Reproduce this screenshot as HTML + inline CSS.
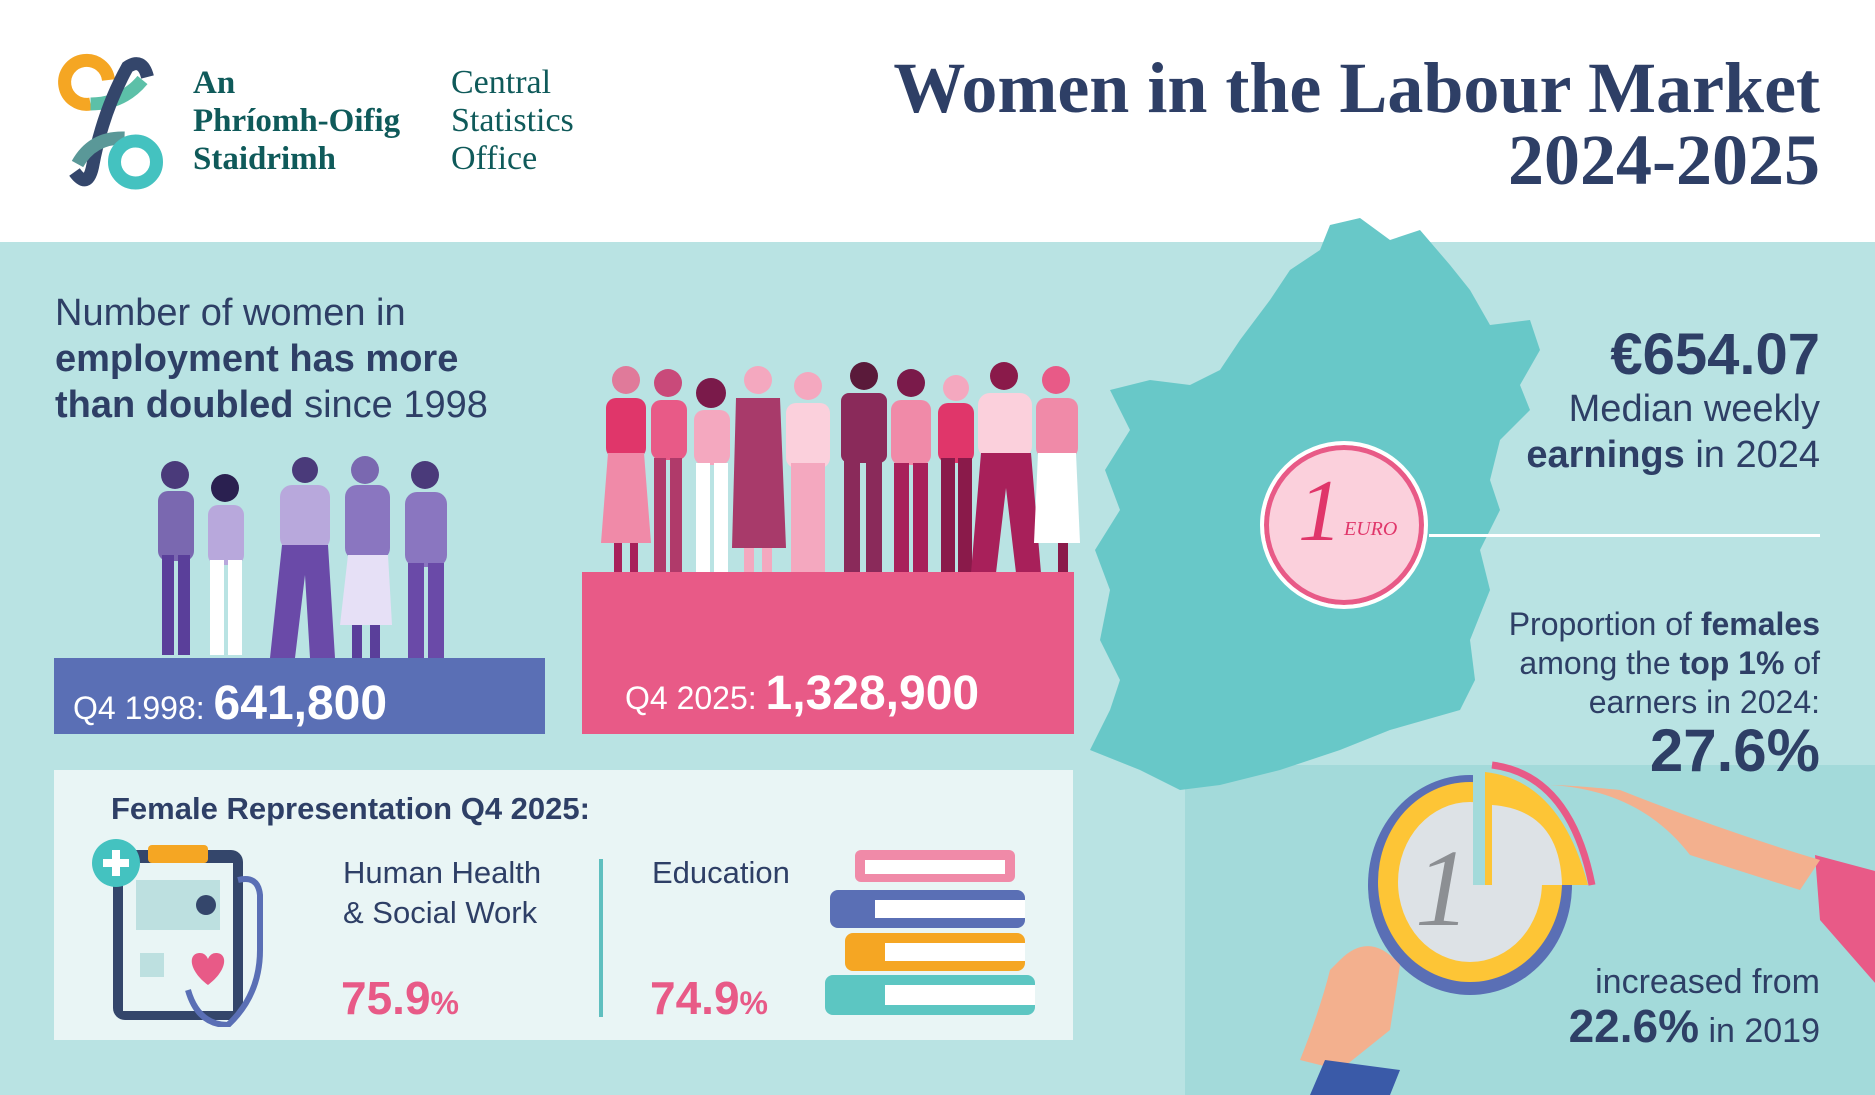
<!DOCTYPE html>
<html><head><meta charset="utf-8"><style>
*{margin:0;padding:0;box-sizing:border-box}
body{width:1875px;height:1095px;overflow:hidden;position:relative;background:#b9e3e3;font-family:"Liberation Sans",sans-serif;color:#2e3f66}
.a{position:absolute;white-space:nowrap}
.r{text-align:right;right:55px}
b{font-weight:bold}
</style></head><body>
<div class="a" style="left:0;top:0;width:1875px;height:242px;background:#fff"></div>
<div class="a" style="left:1185px;top:765px;width:690px;height:330px;background:#a3dada"></div>

<!-- logo -->
<svg class="a" style="left:50px;top:52px" width="125" height="145" viewBox="0 0 100 145">
<path d="M28 52 A22 22 0 1 1 46 28" fill="none" stroke="#f5a623" stroke-width="13"/>
<path d="M28 52 Q60 52 80 28" fill="none" stroke="#5cc0a8" stroke-width="13"/>
<path d="M85 25 Q80 5 65 15 Q40 60 30 115 Q25 138 12 120" fill="none" stroke="#34466b" stroke-width="13"/>
<path d="M15 112 Q30 85 62 86" fill="none" stroke="#5a9898" stroke-width="13"/>
<circle cx="73" cy="110" r="21" fill="none" stroke="#44c2c0" stroke-width="13"/>
</svg>
<div class="a" style="left:193px;top:64px;font:bold 33px/38px 'Liberation Serif',serif;color:#0f5a5a">An<br>Phríomh-Oifig<br>Staidrimh</div>
<div class="a" style="left:451px;top:64px;font:34px/38px 'Liberation Serif',serif;color:#0f5a5a">Central<br>Statistics<br>Office</div>

<div class="a r" style="top:52px;font:bold 72px/72px 'Liberation Serif',serif;text-align:right">Women in the Labour Market<br>2024-2025</div>

<!-- map -->
<svg class="a" style="left:1090px;top:210px" width="460" height="590" viewBox="0 0 460 590">
<path d="M270 8 L300 30 L330 20 L360 55 L380 80 L400 115 L440 110 L450 140 L430 175 L440 200 L410 230 L400 270 L410 300 L390 340 L400 380 L380 430 L385 470 L370 500 L300 520 L250 540 L190 560 L130 575 L90 580 L50 560 L0 540 L20 500 L30 470 L10 430 L20 380 L5 340 L30 300 L15 260 L40 220 L20 180 L60 170 L100 175 L130 160 L150 130 L180 90 L200 60 L230 40 L240 15 Z" fill="#68c8c8"/>
</svg>

<!-- left text -->
<div class="a" style="left:55px;top:290px;font:38px/46px 'Liberation Sans',sans-serif">Number of women in<br><b>employment has more</b><br><b>than doubled</b> since 1998</div>

<!-- blue women -->
<svg class="a" style="left:130px;top:455px" width="330" height="205" viewBox="0 0 330 205">
<g fill="#7a68b0"><circle cx="45" cy="20" r="14" fill="#4a3a7a"/><rect x="28" y="36" width="36" height="70" rx="10"/><rect x="32" y="100" width="12" height="100" fill="#5a3f9a"/><rect x="48" y="100" width="12" height="100" fill="#5a3f9a"/></g>
<g><circle cx="95" cy="33" r="14" fill="#2a2050"/><rect x="78" y="50" width="36" height="60" rx="10" fill="#b8a8dc"/><rect x="80" y="105" width="14" height="95" fill="#fff"/><rect x="98" y="105" width="14" height="95" fill="#fff"/></g>
<g><circle cx="175" cy="15" r="13" fill="#4a3a7a"/><rect x="150" y="30" width="50" height="65" rx="12" fill="#b8a8dc"/><path d="M152 90 L198 90 L205 203 L180 203 L175 120 L165 203 L140 203 Z" fill="#6a4aa8"/></g>
<g><circle cx="235" cy="15" r="14" fill="#7a68b0"/><rect x="215" y="30" width="45" height="75" rx="12" fill="#8a76c0"/><path d="M218 100 L258 100 L262 170 L210 170 Z" fill="#e6e0f6"/><rect x="222" y="170" width="10" height="33" fill="#5a3f9a"/><rect x="240" y="170" width="10" height="33" fill="#5a3f9a"/></g>
<g><circle cx="295" cy="20" r="14" fill="#4a3a7a"/><rect x="275" y="37" width="42" height="75" rx="12" fill="#8a76c0"/><rect x="278" y="108" width="16" height="95" fill="#6a4aa8"/><rect x="298" y="108" width="16" height="95" fill="#6a4aa8"/></g>
</svg>
<div class="a" style="left:54px;top:658px;width:491px;height:76px;background:#5a6fb5"></div>
<div class="a" style="left:73px;top:680px;color:#fff;font:32px/48px 'Liberation Sans',sans-serif">Q4 1998: <b style="font-size:48px">641,800</b></div>

<!-- pink women -->
<svg class="a" style="left:586px;top:358px" width="505" height="215" viewBox="0 0 505 215">
<g>
<circle cx="40" cy="22" r="14" fill="#e07a9a"/><rect x="20" y="40" width="40" height="60" rx="10" fill="#e0366a"/><path d="M22 95 L58 95 L65 185 L15 185 Z" fill="#f08aa8"/><rect x="28" y="185" width="8" height="30" fill="#a8205a"/><rect x="44" y="185" width="8" height="30" fill="#a8205a"/>
<circle cx="82" cy="25" r="14" fill="#c94a7a"/><rect x="65" y="42" width="36" height="60" rx="10" fill="#e85a87"/><rect x="68" y="100" width="12" height="115" fill="#b03a6a"/><rect x="84" y="100" width="12" height="115" fill="#b03a6a"/>
<circle cx="125" cy="35" r="15" fill="#7a1a4a"/><rect x="108" y="52" width="36" height="55" rx="10" fill="#f4a8bf"/><rect x="110" y="105" width="14" height="110" fill="#fff"/><rect x="128" y="105" width="14" height="110" fill="#fff"/>
<circle cx="172" cy="22" r="14" fill="#f4a8bf"/><path d="M150 40 L194 40 L200 190 L146 190 Z" fill="#a83a6a"/><rect x="158" y="190" width="10" height="25" fill="#f4a8bf"/><rect x="176" y="190" width="10" height="25" fill="#f4a8bf"/>
<circle cx="222" cy="28" r="14" fill="#f4a8bf"/><rect x="200" y="45" width="44" height="65" rx="10" fill="#fbd0dc"/><rect x="205" y="105" width="34" height="110" fill="#f4a8bf"/>
<circle cx="278" cy="18" r="14" fill="#5a1a3a"/><rect x="255" y="35" width="46" height="70" rx="8" fill="#8a2a5a"/><rect x="258" y="100" width="16" height="115" fill="#8a2a5a"/><rect x="280" y="100" width="16" height="115" fill="#8a2a5a"/>
<circle cx="325" cy="25" r="14" fill="#7a1a4a"/><rect x="305" y="42" width="40" height="65" rx="10" fill="#f08aa8"/><rect x="308" y="105" width="15" height="110" fill="#a8205a"/><rect x="327" y="105" width="15" height="110" fill="#a8205a"/>
<circle cx="370" cy="30" r="13" fill="#f4a8bf"/><rect x="352" y="45" width="36" height="60" rx="10" fill="#e0366a"/><rect x="355" y="100" width="14" height="115" fill="#8a1a4a"/><rect x="372" y="100" width="14" height="115" fill="#8a1a4a"/>
<circle cx="418" cy="18" r="14" fill="#8a1a4a"/><rect x="392" y="35" width="54" height="65" rx="12" fill="#fbd0dc"/><path d="M395 95 L445 95 L455 215 L430 215 L420 130 L410 215 L385 215 Z" fill="#a8205a"/>
<circle cx="470" cy="22" r="14" fill="#e85a87"/><rect x="450" y="40" width="42" height="60" rx="10" fill="#f08aa8"/><path d="M452 95 L490 95 L494 185 L448 185 Z" fill="#fff"/><rect x="472" y="185" width="10" height="30" fill="#8a1a4a"/>
</g></svg>
<div class="a" style="left:582px;top:572px;width:492px;height:162px;background:#e85a87"></div>
<div class="a" style="left:625px;top:670px;color:#fff;font:32px/48px 'Liberation Sans',sans-serif">Q4 2025: <b style="font-size:48px">1,328,900</b></div>

<!-- representation box -->
<div class="a" style="left:54px;top:770px;width:1019px;height:270px;background:#e9f5f5"></div>
<div class="a" style="left:111px;top:790px;font:bold 31px/38px 'Liberation Sans',sans-serif">Female Representation Q4 2025:</div>
<svg class="a" style="left:88px;top:835px" width="200" height="192" viewBox="0 0 200 192">
<rect x="25" y="15" width="130" height="170" rx="12" fill="#34466b"/><rect x="35" y="28" width="110" height="148" fill="#e9f5f5"/>
<rect x="60" y="10" width="60" height="18" rx="4" fill="#f5a623"/>
<rect x="48" y="45" width="84" height="50" fill="#bde0e0"/><circle cx="118" cy="70" r="10" fill="#34466b"/>
<rect x="52" y="118" width="24" height="24" fill="#bde0e0"/><path d="M120 150 C100 135 100 118 112 118 C118 118 120 124 120 124 C120 124 122 118 128 118 C140 118 140 135 120 150Z" fill="#e85a87"/>
<circle cx="28" cy="28" r="24" fill="#44c2c0"/><rect x="24" y="15" width="8" height="26" fill="#fff"/><rect x="15" y="24" width="26" height="8" fill="#fff"/>
<path d="M150 45 Q170 40 172 60 L172 115 Q172 160 140 190 Q110 190 100 155" fill="none" stroke="#5a6fb5" stroke-width="6"/>
</svg>
<div class="a" style="left:343px;top:853px;font:31px/40px 'Liberation Sans',sans-serif">Human Health<br>&amp; Social Work</div>
<div class="a" style="left:341px;top:973px;font:bold 46px/50px 'Liberation Sans',sans-serif;color:#e85a87">75.9<span style="font-size:32px">%</span></div>
<div class="a" style="left:599px;top:859px;width:4px;height:158px;background:#5fbfbf"></div>
<div class="a" style="left:652px;top:853px;font:31px/40px 'Liberation Sans',sans-serif">Education</div>
<div class="a" style="left:650px;top:973px;font:bold 46px/50px 'Liberation Sans',sans-serif;color:#e85a87">74.9<span style="font-size:32px">%</span></div>
<svg class="a" style="left:825px;top:845px" width="215" height="175" viewBox="0 0 215 175">
<rect x="30" y="5" width="160" height="32" rx="6" fill="#f08aa8"/><rect x="40" y="15" width="140" height="14" fill="#fff"/>
<rect x="5" y="45" width="195" height="38" rx="8" fill="#5a6fb5"/><rect x="50" y="55" width="150" height="18" fill="#fff"/>
<rect x="20" y="88" width="180" height="38" rx="8" fill="#f5a623"/><rect x="60" y="98" width="140" height="18" fill="#fff"/>
<rect x="0" y="130" width="210" height="40" rx="8" fill="#5cc6c2"/><rect x="60" y="140" width="150" height="20" fill="#fff"/>
</svg>

<!-- coin 1 -->
<div class="a" style="left:1260px;top:441px;width:168px;height:168px;border-radius:50%;background:#fbd0dc;border:4px solid #fff;box-shadow:0 0 0 5px #e85a87 inset"></div>
<div class="a" style="left:1298px;top:462px;font:italic 88px/100px 'Liberation Serif',serif;color:#e0366a">1</div>
<div class="a" style="left:1344px;top:518px;font:italic 20px 'Liberation Serif',serif;color:#e0366a">EURO</div>
<div class="a" style="left:1429px;top:534px;width:391px;height:3px;background:#fff"></div>

<div class="a r" style="top:322px;font:bold 58px/66px 'Liberation Sans',sans-serif">€654.07</div>
<div class="a r" style="top:386px;font:38px/46px 'Liberation Sans',sans-serif">Median weekly<br><b>earnings</b> in 2024</div>
<div class="a r" style="top:605px;font:32px/39px 'Liberation Sans',sans-serif">Proportion of <b>females</b><br>among the <b>top 1%</b> of<br>earners in 2024:</div>
<div class="a r" style="top:718px;font:bold 60px/66px 'Liberation Sans',sans-serif">27.6%</div>

<!-- coin 2 -->
<svg class="a" style="left:1240px;top:760px" width="650" height="335" viewBox="0 0 650 335">
<path d="M575 95 L650 115 L650 240 L580 160 Z" fill="#e85a87"/>
<path d="M310 25 Q400 30 450 95 L560 130 L580 100 Q480 70 380 30 Q330 25 310 25Z" fill="#f3b08e"/>
<ellipse cx="230" cy="125" rx="102" ry="110" fill="#5a6fb5"/>
<ellipse cx="230" cy="122" rx="92" ry="100" fill="#fdc536"/>
<ellipse cx="230" cy="122" rx="72" ry="80" fill="#dde2e6"/>
<path d="M233 20 L233 125 L340 125 L338 50 Q300 15 233 10 Z" fill="#a3dada"/>
<path d="M245 12 Q320 20 348 125 L245 125Z" fill="#fdc536"/><path d="M252 5 Q330 15 352 125" fill="none" stroke="#e85a87" stroke-width="7"/>
<path d="M252 45 Q320 50 322 125 L252 125Z" fill="#dde2e6"/>
<text x="175" y="165" font-family="Liberation Serif" font-style="italic" font-size="110" fill="#8c8f93">1</text>
<path d="M100 200 Q130 170 160 205 L150 270 L100 310 L60 300 Q80 250 90 210Z" fill="#f3b08e"/>
<path d="M85 300 L160 310 L150 335 L70 335Z" fill="#3a5aa8"/>
</svg>
<div class="a r" style="top:962px;font:34px/40px 'Liberation Sans',sans-serif">increased from</div>
<div class="a r" style="top:1002px;font:34px/48px 'Liberation Sans',sans-serif"><b style="font-size:46px">22.6%</b> in 2019</div>
</body></html>
